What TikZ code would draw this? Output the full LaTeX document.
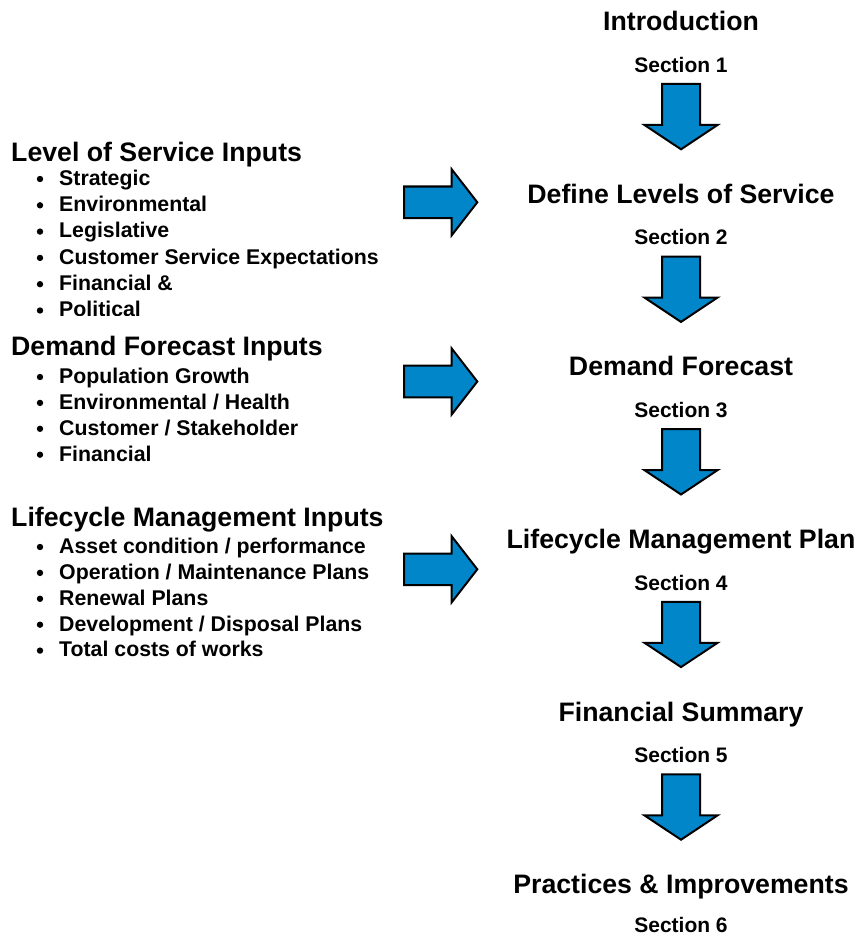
\documentclass[tikz,border=0pt]{standalone}
\usepackage{fontspec}
\setmainfont{Liberation Sans}
\begin{document}
\definecolor{flowblue}{RGB}{0,134,201}
\tikzset{
  headtext/.style={inner sep=0pt, anchor=base, font=\bfseries\fontsize{26.7}{32}\selectfont},
  secttext/.style={inner sep=0pt, anchor=base, text depth=0pt, font=\bfseries\fontsize{21}{25}\selectfont},
  inhead/.style={inner sep=0pt, anchor=base west, font=\bfseries\fontsize{26.7}{32}\selectfont},
  initem/.style={inner sep=0pt, anchor=base west, font=\bfseries\fontsize{21.3}{25}\selectfont},
  bulletdot/.style={circle, fill=black, inner sep=0pt, minimum size=6.4pt},
  blockarrow/.style={fill=flowblue, draw=black, line width=2pt, line join=miter}
}
% down arrow centred on x, from top y
\newcommand{\flowdown}[2]{%
  \draw[blockarrow] (#1-19,#2) -- (#1+19,#2) -- (#1+19,#2+41) -- (#1+36.5,#2+41)
    -- (#1,#2+65.3) -- (#1-36.5,#2+41) -- (#1-19,#2+41) -- cycle;}
% right arrow centred on y
\newcommand{\flowright}[1]{%
  \draw[blockarrow] (404,#1-15.8) -- (451.7,#1-15.8) -- (451.7,#1-33) -- (477.3,#1)
    -- (451.7,#1+33) -- (451.7,#1+15.8) -- (404,#1+15.8) -- cycle;}
% one bulleted input line: name, baseline y, text
\newcommand{\inputline}[3]{%
  \node[bulletdot] (b#1) at (40,#2-6.3) {};
  \node[initem] (i#1) at (59,#2) {#3};}
\begin{tikzpicture}[x=1pt,y=-1pt]
\useasboundingbox (0,0) rectangle (857,936);

% main sequence of sections
\node[headtext] (intro) at (681,30.7) {Introduction};
\node[secttext] (s1) at (681,72.3) {Section 1};
\node[headtext] (los) at (681,203.3) {Define Levels of Service};
\node[secttext] (s2) at (681,244.9) {Section 2};
\node[headtext] (dem) at (681,375.9) {Demand Forecast};
\node[secttext] (s3) at (681,417.5) {Section 3};
\node[headtext] (life) at (681,548.5) {Lifecycle Management Plan};
\node[secttext] (s4) at (681,590.1) {Section 4};
\node[headtext] (fin) at (681,721.1) {Financial Summary};
\node[secttext] (s5) at (681,762.7) {Section 5};
\node[headtext] (prac) at (681,893.7) {Practices \& Improvements};
\node[secttext] (s6) at (681,932.5) {Section 6};

\flowdown{681}{84}
\flowdown{681}{256.6}
\flowdown{681}{429.2}
\flowdown{681}{601.8}
\flowdown{681}{774.4}

% input arrows
\flowright{202.3}
\flowright{381.5}
\flowright{569.3}

% level of service inputs (last line cut off at the bottom)
\begin{scope}
\clip (0,0) rectangle (420,315);
\node[inhead] (losin) at (11,161.7) {Level of Service Inputs};
\inputline{11}{185.3}{Strategic}
\inputline{12}{211.6}{Environmental}
\inputline{13}{237.9}{Legislative}
\inputline{14}{264.2}{Customer Service Expectations}
\inputline{15}{290.5}{Financial \&}
\inputline{16}{316.8}{Political}
\end{scope}

% demand forecast inputs
\node[inhead] (demin) at (11,355) {Demand Forecast Inputs};
\inputline{21}{383.3}{Population Growth}
\inputline{22}{409.2}{Environmental / Health}
\inputline{23}{435.1}{Customer / Stakeholder}
\inputline{24}{461}{Financial}

% lifecycle management inputs
\node[inhead] (lifein) at (11,526.7) {Lifecycle Management Inputs};
\inputline{31}{553.3}{Asset condition / performance}
\inputline{32}{579.2}{Operation / Maintenance Plans}
\inputline{33}{605.1}{Renewal Plans}
\inputline{34}{631}{Development / Disposal Plans}
\inputline{35}{656.9}{Total costs of works}
\end{tikzpicture}
\end{document}
